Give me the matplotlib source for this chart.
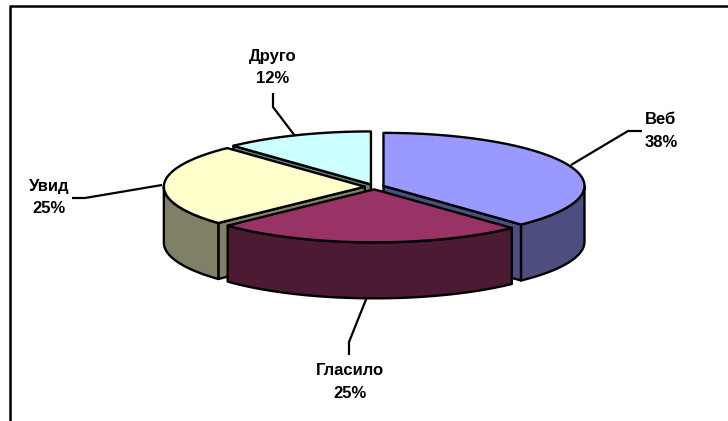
"""
Exploded 3D style pie chart drawn with patches.
"""

import numpy as np
import matplotlib

matplotlib.use("Agg")

import matplotlib.pyplot as plt
from matplotlib.patches import Polygon


names = ["Веб", "Гласило", "Увид", "Друго"]
shares = [38, 25, 25, 12]
top_colors = ["#9999FF", "#993366", "#FFFFCC", "#CCFFFF"]
side_colors = ["#4D4D80", "#4D1A33", "#808066", "#668080"]

# leader polylines and label centres, in pixels
leaders = [
    [(571, 165), (628, 131), (642, 131)],
    [(367, 297), (349, 342), (349, 355)],
    [(162, 185), (85, 198), (72, 198)],
    [(295, 136), (273, 107), (273, 93)],
]
label_pos = [(661, 131), (350, 382), (49, 197.5), (273, 67.5)]

CX, CY = 374.5, 186.8
RX, RY = 201, 53
DEPTH = 56
EXPLODE = 0.048
LW = 1.7


def rim(ox, oy, a0, a1):
    t = np.radians(np.linspace(a0, a1, 120))
    return np.column_stack([ox + RX * np.sin(t), oy - RY * np.cos(t)])


def drop(pts):
    return pts + np.array([0, DEPTH])


def add_poly(ax, pts, color):
    ax.add_patch(
        Polygon(pts, closed=True, facecolor=color, edgecolor="black",
                linewidth=LW, joinstyle="round")
    )


fig = plt.figure(figsize=(7.28, 4.21), dpi=100)
ax = fig.add_axes([0, 0, 1, 1])
ax.set_xlim(0, 728)
ax.set_ylim(421, 0)
ax.axis("off")

# frame only shows on the top and left
ax.plot([9.7, 728], [6.3, 6.3], color="black", lw=1.8, solid_capstyle="butt")
ax.plot([9.7, 9.7], [5, 421], color="black", lw=1.8, solid_capstyle="butt")

angles = np.cumsum([0] + shares) * 3.6
slices = []
for i in range(len(shares)):
    a0, a1 = angles[i], angles[i + 1]
    mid = np.radians((a0 + a1) / 2)
    ox = CX + EXPLODE * RX * np.sin(mid)
    oy = CY - EXPLODE * RY * np.cos(mid)
    slices.append((i, a0, a1, ox, oy))

# back slices first, the front one goes on top
for i, a0, a1, ox, oy in [slices[3], slices[0], slices[2], slices[1]]:
    apex = np.array([[ox, oy]])

    # cut face on the side that looks towards the viewer
    if i == 0:
        edge = np.vstack([apex, rim(ox, oy, a1, a1)])
    elif i in (2, 3):
        edge = np.vstack([apex, rim(ox, oy, a0, a0)])
    else:
        edge = None
    if edge is not None:
        add_poly(ax, np.vstack([edge, drop(edge)[::-1]]), side_colors[i])

    # outer wall, only the lower half of the ellipse can be seen
    lo, hi = max(a0, 90), min(a1, 270)
    if lo < hi:
        wall = rim(ox, oy, lo, hi)
        add_poly(ax, np.vstack([wall, drop(wall)[::-1]]), side_colors[i])

    add_poly(ax, np.vstack([apex, rim(ox, oy, a0, a1)]), top_colors[i])

for line in leaders:
    xs, ys = zip(*line)
    ax.plot(xs, ys, color="black", lw=1.6, solid_joinstyle="miter",
            solid_capstyle="butt")

for name, share, (x, y) in zip(names, shares, label_pos):
    ax.text(x, y, f"{name}\n{share}%", ha="center", va="center",
            fontsize=12, fontweight="bold", family="Liberation Sans",
            linespacing=1.61)

fig.savefig("out.png", dpi=100, facecolor="white")
plt.close(fig)
